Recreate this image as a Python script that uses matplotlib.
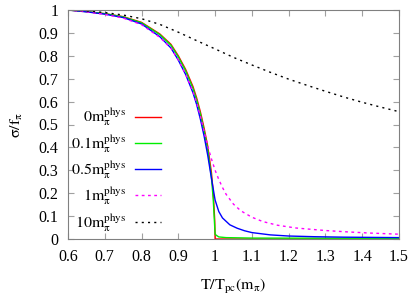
import matplotlib
matplotlib.use("Agg")
import matplotlib.pyplot as plt
import numpy as np

plt.rcParams['font.family'] = ['Liberation Serif', 'DejaVu Serif']
plt.rcParams['mathtext.fontset'] = 'stix'

# data
t_red = [0.6, 0.65, 0.7, 0.75, 0.8, 0.85, 0.88, 0.9, 0.92, 0.94, 0.95, 0.96, 0.97, 0.98, 0.99, 0.995, 0.999, 1.0, 1.5]
s_red = [1.0, 0.993, 0.984, 0.971, 0.946, 0.895, 0.85, 0.80, 0.74, 0.665, 0.615, 0.555, 0.485, 0.405, 0.29, 0.20, 0.08, 0.0, 0.0]

t_green = [0.6, 0.65, 0.7, 0.75, 0.8, 0.85, 0.88, 0.9, 0.92, 0.94, 0.95, 0.96, 0.97, 0.98, 0.99, 0.995, 1.0, 1.01, 1.03, 1.1, 1.5]
s_green = [1.0, 0.993, 0.984, 0.970, 0.944, 0.892, 0.846, 0.795, 0.734, 0.657, 0.606, 0.545, 0.473, 0.39, 0.27, 0.17, 0.02, 0.009, 0.006, 0.004, 0.003]

t_blue = [0.6, 0.65, 0.7, 0.75, 0.8, 0.85, 0.88, 0.9, 0.92, 0.94, 0.95, 0.96, 0.97, 0.98, 0.99, 1.0, 1.01, 1.02, 1.04, 1.06, 1.08, 1.1, 1.15, 1.2, 1.27, 1.35, 1.5]
s_blue = [1.0, 0.992, 0.982, 0.967, 0.939, 0.883, 0.834, 0.781, 0.718, 0.638, 0.586, 0.523, 0.45, 0.365, 0.265, 0.17, 0.12, 0.092, 0.062, 0.047, 0.036, 0.028, 0.018, 0.013, 0.010, 0.008, 0.006]

t_mag = [0.6, 0.65, 0.7, 0.75, 0.8, 0.85, 0.88, 0.9, 0.92, 0.94, 0.95, 0.96, 0.97, 0.98, 0.99, 1.0, 1.01, 1.02, 1.03, 1.05, 1.07, 1.1, 1.13, 1.17, 1.22, 1.3, 1.36, 1.42, 1.5]
s_mag = [1.0, 0.992, 0.981, 0.965, 0.936, 0.88, 0.833, 0.782, 0.72, 0.643, 0.594, 0.536, 0.47, 0.405, 0.35, 0.30, 0.26, 0.225, 0.195, 0.152, 0.123, 0.095, 0.076, 0.060, 0.048, 0.037, 0.031, 0.026, 0.021]

t_blk = [0.6, 0.65, 0.7, 0.75, 0.8, 0.85, 0.9, 0.95, 1.0, 1.05, 1.1, 1.15, 1.2, 1.25, 1.3, 1.35, 1.4, 1.45, 1.5]
s_blk = [1.0, 0.996, 0.989, 0.978, 0.962, 0.937, 0.903, 0.866, 0.83, 0.793, 0.76, 0.728, 0.698, 0.671, 0.645, 0.62, 0.597, 0.576, 0.556]

labels = [r'$\mathrm{0m_\pi^{phys}}$', r'$\mathrm{0.1m_\pi^{phys}}$', r'$\mathrm{0.5m_\pi^{phys}}$',
          r'$\mathrm{1m_\pi^{phys}}$', r'$\mathrm{10m_\pi^{phys}}$']

fig = plt.figure(figsize=(4.15, 2.97), dpi=100)
ax = fig.add_axes([68/415, 58/297, 331/415, 229/297])

ax.plot(t_red, s_red, color='#ff0000', lw=1.0, label=labels[0])
ax.plot(t_green, s_green, color='#00ee00', lw=1.0, label=labels[1])
ax.plot(t_blue, s_blue, color='#0000ff', lw=1.0, label=labels[2])
ax.plot(t_mag, s_mag, color='#ff00ff', lw=1.0, ls=(0, (2, 2.5)), label=labels[3])
ax.plot(t_blk, s_blk, color='black', lw=1.0, ls=(0, (1.5, 3)), label=labels[4])

ax.set_xlim(0.6, 1.5)
ax.set_ylim(0, 1)
ax.set_xticks(np.arange(0.6, 1.51, 0.1))
ax.set_xticklabels(['0.6', '0.7', '0.8', '0.9', '1', '1.1', '1.2', '1.3', '1.4', '1.5'])
ax.set_yticks(np.arange(0, 1.01, 0.1))
ax.set_yticklabels(['0', '0.1', '0.2', '0.3', '0.4', '0.5', '0.6', '0.7', '0.8', '0.9', '1'])
ax.tick_params(direction='in', top=True, right=True, length=4, width=0.8,
               color='#a0a0a0', labelsize=11.5, pad=7)
for s in ax.spines.values():
    s.set_color('#808080')
    s.set_linewidth(0.8)

ax.set_xlabel(r'$\mathrm{T/T_{pc}(m_\pi)}$', fontsize=11.5, labelpad=9)
ax.set_ylabel(r'$\mathrm{\sigma/f_\pi}$', fontsize=11.5, labelpad=10)

ax.legend(loc='lower left', bbox_to_anchor=(-0.025, -0.025), frameon=False, markerfirst=False,
          fontsize=11.5, handlelength=1.6, labelspacing=0.3, handletextpad=0.55, borderaxespad=0.3)

fig.savefig('out.png', dpi=100)
